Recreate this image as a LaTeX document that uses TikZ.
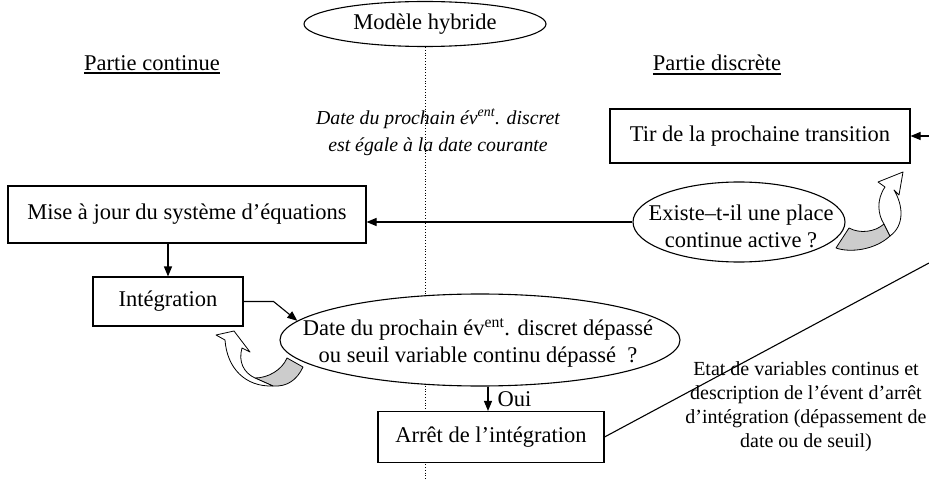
\documentclass[tikz,border=0pt]{standalone}
\usepackage{fontspec}
\setmainfont{Liberation Serif}
\usetikzlibrary{shapes.geometric,arrows.meta}

\begin{document}
\begin{tikzpicture}[x=1pt,y=-1pt,
  txt/.style={font=\fontsize{22.5}{27}\selectfont},
  smalltxt/.style={font=\fontsize{20}{24}\selectfont},
  notetxt/.style={font=\fontsize{19.8}{27}\selectfont\itshape},
  boxnode/.style={txt,draw,fill=white,line width=1.1pt,inner sep=0pt},
  ellnode/.style={draw,fill=white,ellipse,line width=1.1pt,inner sep=0pt},
  arr/.style={line width=1.1pt,-{Triangle[length=10pt,width=8pt]}},
  plain/.style={line width=1.1pt},
  uline/.style={line width=1.7pt},
  curl/.style={line width=0.8pt,line join=round},
  shade/.style={fill={rgb,255:red,204;green,204;blue,204}}
]
\useasboundingbox (0,0) rectangle (929,481);

% top ellipse and the dotted separator between the two parts
\node[ellnode,minimum width=242pt,minimum height=45pt] (modele) at (425,24) {};
\node[txt] (modeletxt) at (modele) {Modèle hybride};
\draw[dotted,line width=0.8pt] (modele.south) -- (modele.south |- 0,481);

% part titles, underlined
\node[txt,inner sep=0pt] (partc) at (152,63) {Partie continue};
\node[txt,inner sep=0pt] (partd) at (717,63) {Partie discrète};
\draw[uline] ([yshift=-3pt]partc.base west) -- ([yshift=-3pt]partc.base east);
\draw[uline] ([yshift=-3pt]partd.base west) -- ([yshift=-3pt]partd.base east);

% condition written on the separator
\node[notetxt,align=center] (note) at (438,132)
  {Date du prochain év\textsuperscript{ent}. discret\\est égale à la date courante};

% discrete side
\node[boxnode,minimum width=300pt,minimum height=54pt] (tir) at (760,136) {Tir de la prochaine transition};
\node[ellnode,minimum width=212pt,minimum height=80pt] (existe) at (739,222) {};
\node[txt,align=center] (existetxt) at (741,226) {Existe–t-il une place\\continue active ?};

% continuous side
\node[boxnode,minimum width=358pt,minimum height=57pt] (mise) at (187,214.5) {Mise à jour du système d’équations};
\node[boxnode,minimum width=150pt,minimum height=49pt] (integ) at (168,301.5) {Intégration};
\node[ellnode,minimum width=400pt,minimum height=92pt] (date) at (480,340) {};
\node[txt,align=center] (datetxt) at (478,343)
  {Date du prochain év\textsuperscript{ent}. discret dépassé\\ou seuil variable continu dépassé\ \ ?};
\node[boxnode,minimum width=226pt,minimum height=51pt] (arret) at (491,437) {Arrêt de l’intégration};

% stop description
\node[smalltxt,align=center] (etat) at (806,407)
  {Etat de variables continus et\\description de l’évent d’arrêt\\d’intégration (dépassement de\\date ou de seuil)};

% loose ends leaving the frame on the right
\coordinate (tirin) at (929,136);
\coordinate (outne) at (929,263);

% connectors
\draw[arr] (existe.west) -- (existe.west -| mise.east);
\draw[arr] (integ.north |- mise.south) -- (integ.north);
\draw[arr] (integ.east) -- ++(30,0) -- (date.174);
\draw[arr] ([xshift=8pt]date.south) -- ([xshift=8pt]date.south |- arret.north)
  node[midway,right,txt,inner sep=9pt] (oui) {Oui};
\draw[plain] (arret.east) -- (outne);
\draw[arr] (tirin) -- (tir.east);

% curved loop arrow under the integration box
\draw[curl,shade] (255,378) .. controls (268,378) and (282,370) .. (287,358)
  -- (303,367) .. controls (297,380) and (287,387) .. (273,386) -- cycle;
\draw[curl,fill=white] (225,340) -- (216,335) -- (234,331) -- (250,352) -- (242,348)
  .. controls (238,362) and (244,373) .. (255,378) -- (273,386)
  .. controls (245,387) and (227,368) .. (225,340) -- cycle;

% curved loop arrow beside the test on continuous places
\draw[curl,shade] (836,248) -- (849,228) .. controls (860,234) and (875,232) .. (884,224)
  -- (890,236) .. controls (875,250) and (850,253) .. (836,248) -- cycle;
\draw[curl,fill=white] (885,187) .. controls (876,200) and (878,215) .. (884,224)
  -- (890,236) .. controls (905,225) and (903,205) .. (894,190)
  -- (899,195) -- (903,172) -- (878,182) -- cycle;
\end{tikzpicture}
\end{document}
